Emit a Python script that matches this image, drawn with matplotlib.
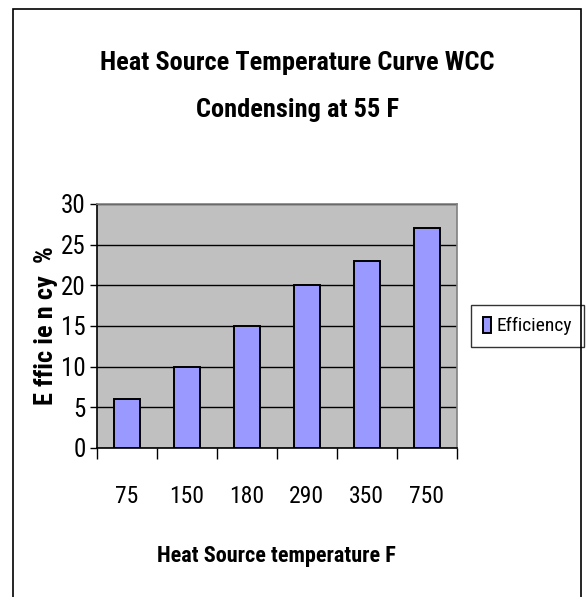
import numpy as np
import matplotlib
matplotlib.use("Agg")
import matplotlib.pyplot as plt
from matplotlib import font_manager
from matplotlib.patches import Rectangle

# data
temps = ["75", "150", "180", "290", "350", "750"]
efficiency = [6, 10, 15, 20, 23, 27]
y_ticks = [0, 5, 10, 15, 20, 25, 30]

# narrow sans, Arial Narrow look-alike
names = {f.name for f in font_manager.fontManager.ttflist}
FONT = "Liberation Sans"
for cand in ["Liberation Sans Narrow", "Roboto Condensed", "Archivo Narrow",
             "Fira Sans Condensed", "IBM Plex Sans Condensed"]:
    if cand in names:
        FONT = cand
        break
plt.rcParams["font.family"] = [FONT, "DejaVu Sans"]

fig = plt.figure(figsize=(5.87, 5.97), dpi=100)
ax = fig.add_axes([0.165, 0.2496, 0.613, 0.4087])
ax.set_facecolor("#C0C0C0")

x = np.arange(len(temps))
ax.set_axisbelow(True)
ax.yaxis.grid(True, color="black", linewidth=1.0)
ax.bar(x, efficiency, 0.43, color="#9999FF", edgecolor="black",
       linewidth=1.4, label="Efficiency", zorder=3)

ax.set_xlim(-0.5, len(temps) - 0.5)
ax.set_ylim(0, 30)
ax.set_yticks(y_ticks)
ax.set_yticklabels([str(v) for v in y_ticks], fontsize=18)
ax.set_xticks(x)
ax.set_xticklabels(temps, fontsize=17)
ax.tick_params(axis="x", length=0, pad=27)
ax.set_xticks(np.arange(len(temps) + 1) - 0.5, minor=True)
ax.tick_params(axis="x", which="minor", length=8, width=1, color="black")
ax.tick_params(axis="y", length=5, width=1, color="black", pad=3)

for s in ["top", "right"]:
    ax.spines[s].set_color("#808080")
    ax.spines[s].set_linewidth(1.2)
for s in ["left", "bottom"]:
    ax.spines[s].set_color("black")
    ax.spines[s].set_linewidth(1.2)

ax.set_xlabel("Heat Source temperature F", fontsize=16, fontweight="bold", labelpad=26)
ax.set_ylabel("E ffic ie n cy  %", fontsize=19, fontweight="bold", labelpad=2)

fig.text(0.506, 0.895, "Heat Source Temperature Curve WCC", ha="center", va="center",
         fontsize=19, fontweight="bold")
fig.text(0.506, 0.815, "Condensing at 55 F", ha="center", va="center",
         fontsize=19, fontweight="bold")

leg = ax.legend(loc="center left", bbox_to_anchor=(1.04, 0.5), fontsize=14,
                frameon=True, fancybox=False, handlelength=0.4, handleheight=0.9,
                handletextpad=0.3, borderpad=0.6, borderaxespad=0)
leg.get_frame().set_edgecolor("black")
leg.get_frame().set_linewidth(1.0)

fig.patches.append(Rectangle((0.0221, -0.02), 0.9677, 1.005, transform=fig.transFigure,
                             fill=False, edgecolor="black", linewidth=1.2))

fig.savefig("out.png", dpi=100)
